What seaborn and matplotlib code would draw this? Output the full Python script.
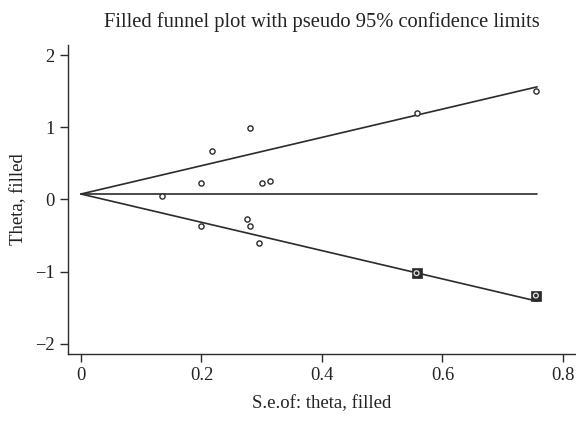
import numpy as np
import pandas as pd
import matplotlib
matplotlib.use("Agg")
import matplotlib.pyplot as plt
import seaborn as sns

# observed studies (standard error, effect)
se_obs = [0.134, 0.199, 0.200, 0.218, 0.276, 0.280, 0.280, 0.295, 0.300, 0.314, 0.557, 0.755]
theta_obs = [0.053, 0.233, -0.362, 0.667, -0.270, 0.985, -0.362, -0.602, 0.224, 0.260, 1.200, 1.500]

# imputed ("filled") studies
se_fill = [0.557, 0.755]
theta_fill = [-1.02, -1.33]

# pooled estimate and funnel range
theta_pooled = 0.076
se_max = 0.757

obs = pd.DataFrame({"se": se_obs, "theta": theta_obs})
fill = pd.DataFrame({"se": se_fill, "theta": theta_fill})

se_line = [0.0, se_max]
funnel = pd.DataFrame({
    "se": se_line * 3,
    "theta": [theta_pooled + 1.96 * s for s in se_line]
             + [theta_pooled - 1.96 * s for s in se_line]
             + [theta_pooled for s in se_line],
    "part": ["upper"] * 2 + ["lower"] * 2 + ["mid"] * 2,
})

sns.set_style("ticks")
plt.rcParams["font.family"] = ["Liberation Serif", "DejaVu Serif"]

fig = plt.figure(figsize=(5.76, 4.24), dpi=100)
ax = fig.add_axes([0.118, 0.165, 0.882, 0.729])

ink = "#2b2b2b"
sns.lineplot(data=funnel, x="se", y="theta", units="part", estimator=None,
             color=ink, linewidth=1.2, ax=ax, legend=False)

# filled studies: dark square with light ring inside
sns.scatterplot(data=fill, x="se", y="theta", marker="s", s=55,
                color=ink, edgecolor=ink, linewidth=0.5, ax=ax, zorder=3)
sns.scatterplot(data=fill, x="se", y="theta", marker="o", s=12,
                facecolor="none", edgecolor="#e8e8e8", linewidth=0.9, ax=ax, zorder=4)

sns.scatterplot(data=obs, x="se", y="theta", marker="o", s=14,
                facecolor="white", edgecolor=ink, linewidth=1.0, ax=ax, zorder=3)

ax.set_xlim(-0.0216, 0.8216)
ax.set_ylim(-2.14, 2.14)
ax.set_xticks([0, 0.2, 0.4, 0.6, 0.8])
ax.set_xticklabels(["0", "0.2", "0.4", "0.6", "0.8"])
ax.set_yticks([-2, -1, 0, 1, 2])
ax.set_yticklabels(["\u22122", "\u22121", "0", "1", "2"])

ax.tick_params(axis="both", direction="out", length=6, width=1.0,
               colors=ink, labelsize=13.3, labelcolor="#222222")
for side in ["top", "right"]:
    ax.spines[side].set_visible(False)
for side in ["left", "bottom"]:
    ax.spines[side].set_color(ink)
    ax.spines[side].set_linewidth(1.0)

ax.set_xlabel("S.e.of: theta, filled", fontsize=13.5, color="#222222", labelpad=8)
ax.set_ylabel("Theta, filled", fontsize=13.5, color="#222222", labelpad=6)
ax.set_title("Filled funnel plot with pseudo 95% confidence limits",
             fontsize=14.8, color="#222222", pad=13)

fig.savefig("out.png", dpi=100)
